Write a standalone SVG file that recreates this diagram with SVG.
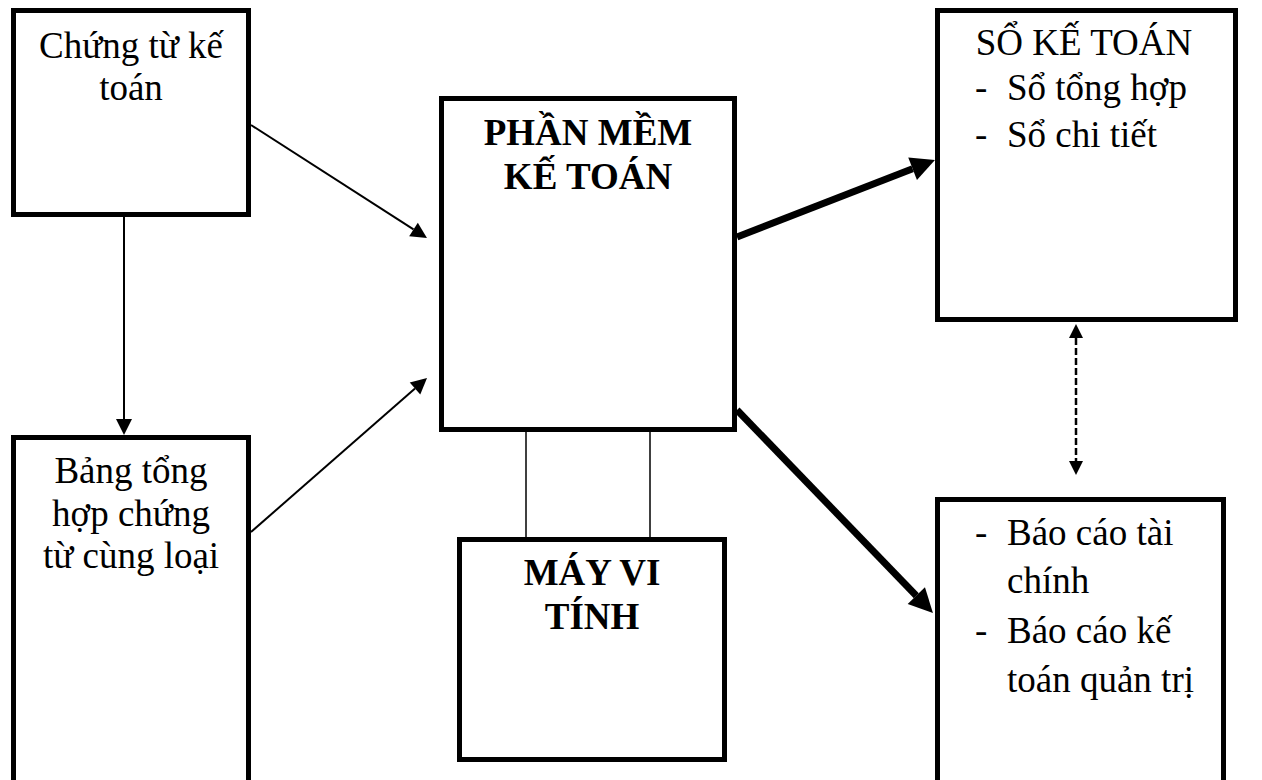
<svg xmlns="http://www.w3.org/2000/svg" width="1262" height="780" viewBox="0 0 1262 780">
  <style>
    .box { fill: #ffffff; stroke: #000000; stroke-width: 5; }
    .txt { font-family: "Liberation Serif", "Times New Roman", serif; font-size: 37px; fill: #000000; }
    .bold { font-weight: bold; }
    .mid { text-anchor: middle; }
    .thin { stroke: #000000; stroke-width: 2; fill: none; }
    .link { stroke: #000000; stroke-width: 1.5; fill: none; }
    .thick { stroke: #000000; stroke-width: 7; fill: none; }
    .dash { stroke: #000000; stroke-width: 2.5; stroke-dasharray: 7 3; fill: none; }
  </style>
  <defs>
    <marker id="head-thin" markerUnits="userSpaceOnUse" markerWidth="18" markerHeight="18" refX="0" refY="8" orient="auto" overflow="visible">
      <path d="M0,0 L16,8 L0,16 z" fill="#000000"/>
    </marker>
    <marker id="head-thick" markerUnits="userSpaceOnUse" markerWidth="26" markerHeight="26" refX="0" refY="12" orient="auto" overflow="visible">
      <path d="M0,0 L24,12 L0,24 z" fill="#000000"/>
    </marker>
    <marker id="head-dash" markerUnits="userSpaceOnUse" markerWidth="16" markerHeight="16" refX="0" refY="7" orient="auto-start-reverse" overflow="visible">
      <path d="M0,0 L14,7 L0,14 z" fill="#000000"/>
    </marker>
  </defs>

  <!-- connectors -->
  <g id="connectors">
    <line class="thin" x1="124" y1="217" x2="124" y2="419" marker-end="url(#head-thin)"/>
    <line class="thin" x1="251" y1="125" x2="413.5" y2="229.4" marker-end="url(#head-thin)"/>
    <line class="thin" x1="251" y1="532" x2="415" y2="388.5" marker-end="url(#head-thin)"/>
    <line class="thick" x1="737" y1="237" x2="912.6" y2="168.7" marker-end="url(#head-thick)"/>
    <line class="thick" x1="737" y1="410" x2="916.3" y2="595.7" marker-end="url(#head-thick)"/>
    <line class="link" x1="526" y1="432" x2="526" y2="537"/>
    <line class="link" x1="650" y1="432" x2="650" y2="537"/>
    <line class="dash" x1="1076" y1="338" x2="1076" y2="461" marker-start="url(#head-dash)" marker-end="url(#head-dash)"/>
  </g>

  <!-- source documents -->
  <g id="chung-tu">
    <rect class="box" x="13.5" y="10.5" width="235" height="204"/>
    <text class="txt mid" x="131" y="58">Chứng từ kế</text>
    <text class="txt mid" x="131" y="100">toán</text>
  </g>

  <!-- summary of documents -->
  <g id="bang-tong-hop">
    <rect class="box" x="13.5" y="437.5" width="235" height="360"/>
    <text class="txt mid" x="131" y="483">Bảng tổng</text>
    <text class="txt mid" x="131" y="526">hợp chứng</text>
    <text class="txt mid" x="131" y="568">từ cùng loại</text>
  </g>

  <!-- accounting software -->
  <g id="phan-mem">
    <rect class="box" x="441.5" y="98.5" width="293" height="331"/>
    <text class="txt bold mid" x="588" y="145">PHẦN MỀM</text>
    <text class="txt bold mid" x="588" y="189">KẾ TOÁN</text>
  </g>

  <!-- computer -->
  <g id="may-vi-tinh">
    <rect class="box" x="459.5" y="539.5" width="265" height="220"/>
    <text class="txt bold mid" x="592" y="585">MÁY VI</text>
    <text class="txt bold mid" x="592" y="629">TÍNH</text>
  </g>

  <!-- ledgers -->
  <g id="so-ke-toan">
    <rect class="box" x="937.5" y="10.5" width="298" height="309"/>
    <text class="txt mid" x="1084" y="55">SỔ KẾ TOÁN</text>
    <text class="txt" x="975" y="100">-</text>
    <text class="txt" x="1007" y="100">Sổ tổng hợp</text>
    <text class="txt" x="975" y="147">-</text>
    <text class="txt" x="1007" y="147">Sổ chi tiết</text>
  </g>

  <!-- reports -->
  <g id="bao-cao">
    <rect class="box" x="937.5" y="499.5" width="286" height="300"/>
    <text class="txt" x="975" y="545">-</text>
    <text class="txt" x="1007" y="545">Báo cáo tài</text>
    <text class="txt" x="1007" y="593">chính</text>
    <text class="txt" x="975" y="643">-</text>
    <text class="txt" x="1007" y="643">Báo cáo kế</text>
    <text class="txt" x="1007" y="692">toán quản trị</text>
  </g>
</svg>
